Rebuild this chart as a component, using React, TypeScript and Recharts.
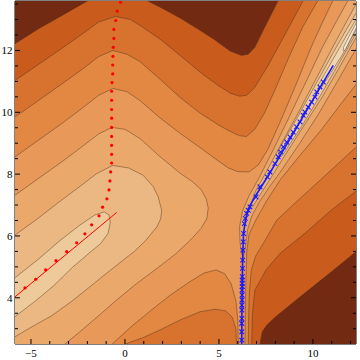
import React from 'react';
import { ComposedChart, Scatter, XAxis, YAxis } from 'recharts';

type P = [number, number];

const xDomain = [-5.85, 12.29];
const yDomain = [2.505, 13.6];
const xTicks = [-5, -4, -3, -2, -1, 0, 1, 2, 3, 4, 5, 6, 7, 8, 9, 10, 11, 12];
const yTicks = [3, 3.5, 4, 4.5, 5, 5.5, 6, 6.5, 7, 7.5, 8, 8.5, 9, 9.5, 10, 10.5, 11, 11.5, 12, 12.5, 13, 13.5];

// contour regions (data units), outer parts run past the frame
const bgRect: P[] = [[-8, 0], [15, 0], [15, 16], [-8, 16]];
const darkTopLeft: P[] = [[-8, 11.4], [-5.85, 12.22], [-4.6, 12.7], [-3.3, 13.15], [-2.0, 13.6], [-1.2, 14.0], [-1.2, 16], [-8, 16]];
const darkTopCenter: P[] = [[0.5, 14.2], [1.15, 13.62], [2.0, 13.36], [2.98, 13.03], [3.99, 12.65], [4.77, 12.35], [5.59, 11.98], [6.2, 11.84], [6.56, 11.88], [6.91, 12.1], [7.44, 12.76], [8.16, 13.62], [8.7, 14.3], [8.7, 16], [0.5, 16]];
const darkBottomRight: P[] = [[7.18, 0], [7.18, 2.5], [7.3, 2.9], [7.55, 3.12], [8.0, 3.38], [9.5, 4.12], [11.0, 4.85], [12.29, 5.49], [15, 6.85], [15, 0]];
const band5: P[] = [[-8, 10.6], [-5.85, 11.03], [-4.6, 11.55], [-3.4, 12.05], [-2.3, 12.52], [-1.4, 12.92], [-0.5, 13.1], [0.3, 13.0], [0.8, 12.81], [1.9, 12.35], [2.93, 11.84], [4.2, 11.2], [5.0, 10.85], [5.6, 10.62], [6.1, 10.52], [6.47, 10.55], [6.9, 10.8], [7.6, 11.5], [8.5, 12.5], [9.47, 13.6], [10.1, 14.3], [15, 14.3], [15, 8.7], [12.29, 7.45], [11.0, 6.85], [9.6, 6.1], [8.24, 5.43], [7.5, 4.9], [6.91, 4.25], [6.78, 3.5], [6.74, 2.5], [6.74, 0], [-8, 0]];
const band4: P[] = [[-8, 9.3], [-5.85, 9.85], [-4.6, 10.38], [-3.4, 10.9], [-2.3, 11.38], [-1.4, 11.8], [-0.65, 12.0], [0.1, 11.88], [0.8, 11.64], [1.9, 11.05], [2.93, 10.48], [4.0, 9.97], [5.0, 9.58], [5.6, 9.38], [6.1, 9.24], [6.47, 9.22], [6.9, 9.45], [7.4, 9.95], [8.0, 10.75], [8.7, 11.75], [9.45, 12.75], [10.25, 13.6], [10.85, 14.3], [15, 14.3], [15, 10.3], [12.29, 8.87], [11.0, 8.15], [10.37, 7.8], [9.2, 7.15], [8.07, 6.51], [7.4, 5.8], [6.95, 5.35], [6.72, 4.9], [6.62, 4.2], [6.58, 3.4], [6.56, 2.5], [6.56, 0], [5.94, 0], [5.94, 2.5], [5.9, 3.0], [5.7, 3.38], [5.35, 3.58], [4.8, 3.63], [4.0, 3.55], [3.0, 3.3], [2.0, 3.0], [1.0, 2.72], [0.0, 2.5], [-1.0, 2.2], [-8, 2.0]];
const band3: P[] = [[-8, 8.0], [-5.85, 8.56], [-4.6, 9.1], [-3.4, 9.62], [-2.3, 10.12], [-1.4, 10.55], [-0.65, 10.77], [0.1, 10.67], [0.8, 10.38], [1.8, 9.85], [2.93, 9.32], [3.9, 8.9], [4.8, 8.5], [5.5, 8.2], [6.0, 8.08], [6.6, 8.07], [7.1, 8.3], [7.6, 8.8], [8.3, 9.75], [9.1, 10.9], [9.9, 12.1], [10.5, 12.9], [11.05, 13.6], [11.6, 14.3], [15, 14.3], [15, 13.0], [12.29, 10.9], [11.4, 10.2], [10.4, 9.4], [9.3, 8.6], [8.24, 7.8], [7.5, 7.1], [6.95, 6.5], [6.6, 6.05], [6.48, 5.5], [6.43, 4.5], [6.4, 3.5], [6.38, 2.5], [6.38, 0], [6.03, 0], [6.03, 2.5], [6.0, 3.3], [5.9, 3.9], [5.65, 4.45], [5.3, 4.78], [4.85, 4.9], [4.2, 4.8], [3.4, 4.5], [2.4, 4.08], [1.4, 3.6], [0.4, 3.1], [-0.6, 2.55], [-1.5, 2.0], [-8, 2.0]];
const band2Left: P[] = [[-8, 6.8], [-5.85, 7.32], [-4.6, 7.86], [-3.4, 8.38], [-2.3, 8.88], [-1.4, 9.3], [-0.7, 9.51], [0.0, 9.45], [0.8, 9.15], [1.8, 8.6], [2.93, 8.03], [3.6, 7.75], [4.05, 7.5], [4.32, 7.2], [4.43, 6.9], [4.35, 6.55], [4.05, 6.25], [3.5, 5.88], [2.7, 5.42], [1.7, 4.95], [0.6, 4.45], [-0.4, 3.95], [-1.4, 3.42], [-2.4, 2.9], [-3.2, 2.5], [-4.2, 2.0], [-8, 2.0]];
const band2Channel: P[] = [[12.3, 14.2], [11.85, 13.6], [11.3, 13.0], [10.5, 12.1], [9.6, 10.95], [8.7, 9.8], [7.9, 8.8], [7.15, 7.9], [6.6, 7.3], [6.25, 6.8], [6.1, 6.3], [6.12, 5.8], [6.22, 5.4], [6.3, 5.3], [6.42, 5.7], [6.52, 6.2], [6.75, 6.65], [7.15, 7.1], [7.7, 7.6], [8.3, 8.1], [9.3, 9.0], [10.3, 9.95], [11.3, 11.0], [12.29, 12.05], [15, 14.8], [15, 16], [12.3, 16]];
const band1Left: P[] = [[-8, 5.55], [-5.85, 6.03], [-4.6, 6.58], [-3.46, 7.12], [-2.4, 7.6], [-1.5, 8.02], [-0.65, 8.28], [0.2, 8.2], [0.97, 7.96], [1.5, 7.6], [1.77, 7.26], [1.95, 6.83], [1.9, 6.55], [1.69, 6.29], [1.1, 5.85], [0.5, 5.5], [-0.09, 5.22], [-1.0, 4.78], [-1.86, 4.36], [-2.8, 3.9], [-3.9, 3.42], [-4.9, 3.08], [-5.85, 2.74], [-8, 1.95]];
const band1Channel: P[] = [[12.8, 14.1], [12.29, 13.5], [11.8, 12.95], [11.0, 12.05], [10.05, 10.95], [9.1, 9.85], [8.2, 8.85], [7.45, 8.0], [6.95, 7.45], [6.72, 7.05], [6.8, 6.95], [7.1, 7.25], [7.6, 7.72], [8.5, 8.6], [9.5, 9.55], [10.5, 10.5], [11.5, 11.55], [12.29, 12.42], [15, 15.3], [15, 16], [12.8, 16]];
const band0Left: P[] = [[-8, 3.9], [-5.85, 4.65], [-4.6, 5.25], [-3.46, 5.85], [-2.4, 6.35], [-1.6, 6.68], [-1.1, 6.78], [-0.85, 6.68], [-0.78, 6.45], [-0.9, 6.08], [-1.3, 5.75], [-1.86, 5.47], [-2.8, 4.98], [-3.81, 4.38], [-4.8, 3.88], [-5.85, 3.39], [-8, 2.5]];
const band0Channel: P[] = [[12.9, 13.85], [12.29, 13.2], [11.8, 12.7], [11.05, 11.9], [10.05, 10.8], [9.05, 9.7], [8.15, 8.75], [8.22, 8.6], [8.32, 8.57], [8.42, 8.65], [9.4, 9.55], [10.4, 10.55], [11.35, 11.55], [12.29, 12.55], [15, 15.4], [15, 16], [12.9, 16]];
const pale1Channel: P[] = [[12.9, 13.6], [12.29, 13.0], [11.8, 12.5], [11.1, 11.75], [10.3, 10.9], [10.32, 10.78], [10.45, 10.8], [11.55, 11.85], [12.29, 12.66], [15, 15.2], [15, 16], [12.9, 16]];
const pale2Channel: P[] = [[12.9, 13.5], [12.29, 12.88], [12.0, 12.55], [11.62, 12.1], [11.62, 12.0], [11.7, 12.0], [12.29, 12.72], [15, 15.5], [15, 16], [12.9, 16]];

// overlay series
const redLine: P[] = [[-5.85, 4.03], [-0.44, 6.76]];
const redDots: P[] = [
  [-5.32, 4.32], [-4.75, 4.6], [-4.22, 4.9], [-3.67, 5.2], [-3.1, 5.49], [-2.57, 5.78], [-2.13, 6.07], [-1.77, 6.36],
  [-1.38, 6.65], [-1.19, 6.93], [-0.96, 7.2], [-0.85, 7.49], [-0.8, 7.78], [-0.76, 8.07], [-0.71, 8.36], [-0.71, 8.64],
  [-0.71, 8.93], [-0.71, 9.22], [-0.71, 9.51], [-0.71, 9.81], [-0.71, 10.09], [-0.71, 10.39], [-0.71, 10.68], [-0.69, 10.96],
  [-0.65, 11.24], [-0.65, 11.53], [-0.64, 11.81], [-0.62, 12.1], [-0.59, 12.39], [-0.59, 12.68], [-0.49, 12.97], [-0.41, 13.27],
  [-0.23, 13.56],
];
const blueLine: P[] = [[6.21, 2.4], [6.22, 3.5], [6.24, 4.5], [6.27, 5.5], [6.31, 6.1], [6.42, 6.55], [6.62, 6.95], [6.95, 7.3], [7.3, 7.64], [7.6, 7.93], [9.0, 9.37], [10.5, 10.93], [11.08, 11.52]];
const blueMarks: P[] = [
  [6.21, 2.63], [6.21, 2.9], [6.21, 3.17], [6.22, 3.33], [6.22, 3.6], [6.22, 3.76], [6.23, 3.93], [6.23, 4.09], [6.23, 4.25],
  [6.24, 4.36], [6.24, 4.47], [6.24, 4.57], [6.24, 4.68], [6.25, 4.95], [6.26, 5.22], [6.27, 5.54], [6.29, 5.81], [6.31, 6.08],
  [6.35, 6.4], [6.4, 6.57], [6.47, 6.73], [6.56, 6.83], [6.65, 6.94], [6.97, 7.26], [7.18, 7.59],
  [7.57, 7.91], [7.71, 8.07], [7.98, 8.34], [8.15, 8.56], [8.28, 8.72], [8.42, 8.88], [8.6, 9.04], [8.78, 9.2], [8.95, 9.36],
  [9.13, 9.53], [9.31, 9.69], [9.48, 9.9], [9.57, 10.01], [9.75, 10.17], [9.93, 10.33], [10.11, 10.49], [10.2, 10.66],
  [10.37, 10.82], [10.55, 10.98],
];

const COL = {
  d: '#732a12', c6: '#c95b1c', c5: '#d8722f', c4: '#e28842', c3: '#e89858',
  c2: '#eba86b', c1: '#ebb883', c0: '#eec99a', p1: '#f0d6b0', p2: '#f3e6d5',
};
const EDGE = '#4e301d';

const layers: { pts: P[]; fill: string; edge: boolean }[] = [
  { pts: bgRect, fill: COL.c6, edge: false },
  { pts: darkTopLeft, fill: COL.d, edge: true },
  { pts: darkTopCenter, fill: COL.d, edge: true },
  { pts: darkBottomRight, fill: COL.d, edge: true },
  { pts: band5, fill: COL.c5, edge: true },
  { pts: band4, fill: COL.c4, edge: true },
  { pts: band3, fill: COL.c3, edge: true },
  { pts: band2Left, fill: COL.c2, edge: true },
  { pts: band2Channel, fill: COL.c2, edge: true },
  { pts: band1Left, fill: COL.c1, edge: true },
  { pts: band1Channel, fill: COL.c1, edge: true },
  { pts: band0Left, fill: COL.c0, edge: true },
  { pts: band0Channel, fill: COL.c0, edge: true },
  { pts: pale1Channel, fill: COL.p1, edge: true },
  { pts: pale2Channel, fill: COL.p2, edge: true },
];

const toPts = (a: P[]) => a.map(([x, y]) => ({ x, y }));
const FONT = '"Liberation Serif", "DejaVu Serif", serif';
const fmt = (v: number) => (v < 0 ? `\u2212${-v}` : String(v));
const noShape = () => <g />;

function BottomTick({ x, y, payload }: any) {
  const v = payload.value;
  const major = v % 5 === 0;
  return (
    <g>
      <line x1={x} x2={x} y1={y} y2={y - (major ? 5 : 3)} stroke="#000" />
      {major && (
        <text x={x} y={y + 12.5} textAnchor="middle" fontSize={11} fontFamily={FONT} fill="#000">
          {fmt(v)}
        </text>
      )}
    </g>
  );
}

function TopTick({ x, y, payload }: any) {
  const major = payload.value % 5 === 0;
  return <line x1={x} x2={x} y1={y} y2={y + (major ? 5 : 3)} stroke="#000" />;
}

function LeftTick({ x, y, payload }: any) {
  const v = payload.value;
  const major = Number.isInteger(v) && v % 2 === 0;
  return (
    <g>
      <line x1={x} x2={x + (major ? 5 : 3)} y1={y} y2={y} stroke="#000" />
      {major && (
        <text x={x - 2.5} y={y + 3.8} textAnchor="end" fontSize={11} fontFamily={FONT} fill="#000">
          {fmt(v)}
        </text>
      )}
    </g>
  );
}

function RightTick({ x, y, payload }: any) {
  const v = payload.value;
  const major = Number.isInteger(v) && v % 2 === 0;
  return <line x1={x} x2={x - (major ? 5 : 3)} y1={y} y2={y} stroke="#000" />;
}

export default function App() {
  return (
    <div style={{ position: 'absolute', left: 0, top: 0, width: 360, height: 360, background: '#fff' }}>
      <ComposedChart width={360} height={360} margin={{ top: 0, right: 3, bottom: 0, left: 0 }}>
        <XAxis
          dataKey="x" type="number" domain={xDomain} allowDataOverflow ticks={xTicks} interval={0}
          height={16} tickSize={0} tickMargin={0} tickLine={false} axisLine={{ stroke: '#000' }} tick={BottomTick}
        />
        <XAxis
          xAxisId="top" orientation="top" type="number" domain={xDomain} allowDataOverflow ticks={xTicks} interval={0}
          height={1} tickSize={0} tickMargin={0} tickLine={false} axisLine={{ stroke: '#000' }} tick={TopTick}
        />
        <YAxis
          dataKey="y" type="number" domain={yDomain} allowDataOverflow ticks={yTicks} interval={0}
          width={15} tickSize={0} tickMargin={0} tickLine={false} axisLine={{ stroke: '#000' }} tick={LeftTick}
        />
        <YAxis
          yAxisId="right" orientation="right" type="number" domain={yDomain} allowDataOverflow ticks={yTicks} interval={0}
          width={1} tickSize={0} tickMargin={0} tickLine={false} axisLine={{ stroke: '#000' }} tick={RightTick}
        />

        {layers.map((l, i) => (
          <Scatter
            key={i}
            data={toPts(l.pts)}
            isAnimationActive={false}
            shape={noShape}
            lineType="joint"
            legendType="none"
            line={{ fill: l.fill, stroke: l.edge ? EDGE : 'none', strokeWidth: 0.9, strokeOpacity: 0.5 }}
          />
        ))}

        {/* red path and its samples */}
        <Scatter data={toPts(redLine)} isAnimationActive={false} shape={noShape} line={{ stroke: '#ff0000', strokeWidth: 1 }} />
        <Scatter
          data={toPts(redDots)}
          isAnimationActive={false}
          shape={(p: any) => <circle cx={p.cx} cy={p.cy} r={1.6} fill="#ff0000" />}
        />

        {/* blue path with x markers */}
        <Scatter data={toPts(blueLine)} isAnimationActive={false} shape={noShape} line={{ stroke: '#1a1aff', strokeWidth: 1.6 }} />
        <Scatter
          data={toPts(blueMarks)}
          isAnimationActive={false}
          shape={(p: any) => (
            <path
              d={`M${p.cx - 2.3},${p.cy - 2.3}L${p.cx + 2.3},${p.cy + 2.3}M${p.cx - 2.3},${p.cy + 2.3}L${p.cx + 2.3},${p.cy - 2.3}`}
              stroke="#1a1aff"
              strokeWidth={1.1}
              fill="none"
            />
          )}
        />
      </ComposedChart>
    </div>
  );
}
